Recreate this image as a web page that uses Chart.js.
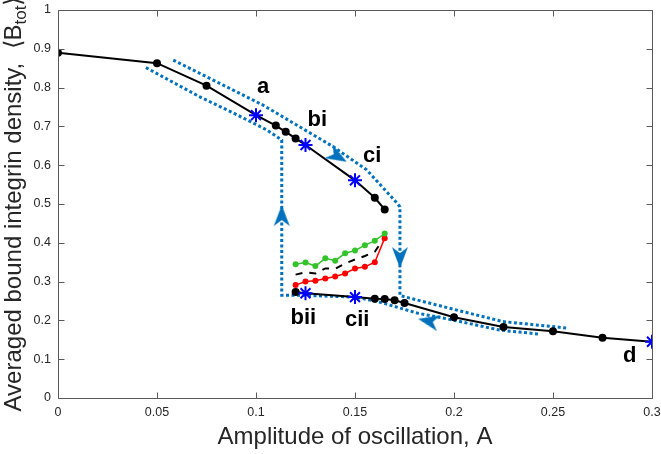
<!DOCTYPE html>
<html>
<head>
<meta charset="utf-8">
<script src="https://cdn.jsdelivr.net/npm/chart.js@4.4.0/dist/chart.umd.min.js"></script>
<style>
  body { margin: 0; background: #fff; }
</style>
</head>
<body>
<canvas id="chart" width="661" height="454"></canvas>
<script>
// Upper (high binding) branch
const upperA = [0, 0.05, 0.075, 0.1, 0.11, 0.115, 0.12, 0.125, 0.15, 0.16, 0.165];
const upperB = [0.89, 0.863, 0.805, 0.729, 0.702, 0.686, 0.669, 0.652, 0.561, 0.516, 0.486];

// Lower (low binding) branch
const lowerA = [0.12, 0.125, 0.15, 0.16, 0.165, 0.17, 0.175, 0.2, 0.225, 0.25, 0.275, 0.3];
const lowerB = [0.273, 0.270, 0.260, 0.256, 0.255, 0.252, 0.245, 0.208, 0.183, 0.172, 0.155, 0.145];

// Sweep curves in the bistable region
const sweepA = [0.12, 0.125, 0.13, 0.135, 0.14, 0.145, 0.15, 0.155, 0.16, 0.165];
const greenB = [0.345, 0.349, 0.340, 0.360, 0.354, 0.373, 0.380, 0.394, 0.405, 0.424];
const redB   = [0.291, 0.300, 0.302, 0.308, 0.313, 0.321, 0.334, 0.338, 0.350, 0.412];
const meanB  = [0.318, 0.324, 0.321, 0.334, 0.333, 0.347, 0.357, 0.366, 0.377, 0.415];

// Marked states
const starA = [0.1, 0.125, 0.15, 0.125, 0.15, 0.3];
const starB = [0.729, 0.652, 0.561, 0.270, 0.260, 0.145];
const starLabels = ['a', 'bi', 'ci', 'bii', 'cii', 'd'];

// Hysteresis guide paths (dotted)
const pathUpA = [0.0582, 0.1035, 0.1389, 0.1559, 0.1711, 0.1727, 0.1727, 0.1995, 0.2247, 0.2576];
const pathUpB = [0.871, 0.755, 0.648, 0.588, 0.503, 0.493, 0.264, 0.229, 0.197, 0.180];
const pathDownA = [0.2424, 0.2232, 0.1995, 0.1813, 0.1626, 0.1505, 0.1222, 0.113, 0.113, 0.1054, 0.0884, 0.0717, 0.0439];
const pathDownB = [0.165, 0.175, 0.201, 0.219, 0.247, 0.260, 0.265, 0.265, 0.665, 0.691, 0.735, 0.776, 0.853];

// Arrow heads on the guide paths
const arrowA = [0.113, 0.1727, 0.141, 0.1873];
const arrowB = [0.469, 0.363, 0.623, 0.198];
const arrowAngle = [0, 180, 120, 282];

// Axis ticks
const xTicks = [0, 0.05, 0.1, 0.15, 0.2, 0.25, 0.3];
const yTicks = [0, 0.1, 0.2, 0.3, 0.4, 0.5, 0.6, 0.7, 0.8, 0.9, 1];

const PATH_BLUE = '#0072BD';
const STAR_BLUE = '#0000FF';
const AXIS_COLOR = '#5a5a5a';
const TEXT_COLOR = '#262626';
const FONT = '"Liberation Sans", Arial, sans-serif';

// label placement relative to the star, in pixels (left edge, baseline)
const labelOffsets = {
  a: [1, -22], bi: [2, -19], ci: [8, -18],
  bii: [-15, 31], cii: [-10, 29], d: [-29, 20]
};

function pts(xs, ys) {
  return xs.map((x, i) => ({ x: x, y: ys[i] }));
}

function isStar(a, b) {
  return starA.some((s, k) => s === a && Math.abs(starB[k] - b) < 0.01);
}

// no automatic padding, keep the plot box where the reference has it
function fixPadding(s) {
  s.paddingTop = 0;
  s.paddingBottom = 0;
  s.paddingLeft = 0;
  s.paddingRight = 0;
}

// arrowhead pointing up, used as a point style
function makeArrowHead() {
  const c = document.createElement('canvas');
  c.width = 18;
  c.height = 22;
  const g = c.getContext('2d');
  g.fillStyle = PATH_BLUE;
  g.beginPath();
  g.moveTo(9, 0);
  g.lineTo(17, 21);
  g.lineTo(9, 15);
  g.lineTo(1, 21);
  g.closePath();
  g.fill();
  return c;
}
const arrowHead = makeArrowHead();

// box, inward ticks, axis titles and state labels
const decorPlugin = {
  id: 'decor',
  afterDraw(chart) {
    const ctx = chart.ctx;
    const area = chart.chartArea;
    const xs = chart.scales.x;
    const ys = chart.scales.y;
    const L = Math.round(area.left) + 0.5;
    const R = Math.round(area.right) + 0.5;
    const T = Math.round(area.top) + 0.5;
    const B = Math.round(area.bottom) + 0.5;
    const tl = 6;

    ctx.save();
    ctx.strokeStyle = AXIS_COLOR;
    ctx.lineWidth = 1;
    ctx.beginPath();
    ctx.rect(L, T, R - L, B - T);
    xTicks.forEach(v => {
      const px = Math.round(xs.getPixelForValue(v)) + 0.5;
      ctx.moveTo(px, B); ctx.lineTo(px, B - tl);
      ctx.moveTo(px, T); ctx.lineTo(px, T + tl);
    });
    yTicks.forEach(v => {
      const py = Math.round(ys.getPixelForValue(v)) + 0.5;
      ctx.moveTo(L, py); ctx.lineTo(L + tl, py);
      ctx.moveTo(R, py); ctx.lineTo(R - tl, py);
    });
    ctx.stroke();

    // x title
    ctx.fillStyle = TEXT_COLOR;
    ctx.font = '24px ' + FONT;
    ctx.textAlign = 'center';
    ctx.textBaseline = 'alphabetic';
    ctx.fillText('Amplitude of oscillation, A', (area.left + area.right) / 2, 444);

    // y title with subscript
    const main = 'Averaged bound integrin density,  \u27E8B';
    const sub = 'tot';
    const tail = '\u27E9';
    ctx.font = '24px ' + FONT;
    const wMain = ctx.measureText(main).width;
    const wTail = ctx.measureText(tail).width;
    ctx.font = '17px ' + FONT;
    const wSub = ctx.measureText(sub).width;
    const total = wMain + wSub + wTail;
    ctx.translate(21, (area.top + area.bottom) / 2);
    ctx.rotate(-Math.PI / 2);
    ctx.textAlign = 'left';
    const x0 = -total / 2;
    ctx.font = '24px ' + FONT;
    ctx.fillText(main, x0, 0);
    ctx.font = '17px ' + FONT;
    ctx.fillText(sub, x0 + wMain, 5);
    ctx.font = '24px ' + FONT;
    ctx.fillText(tail, x0 + wMain + wSub, 0);
    ctx.restore();

    // state labels
    const meta = chart.getDatasetMeta(1);
    ctx.save();
    ctx.fillStyle = '#000';
    ctx.font = 'bold 22px ' + FONT;
    ctx.textAlign = 'left';
    ctx.textBaseline = 'alphabetic';
    starLabels.forEach((lab, i) => {
      const p = meta.data[i];
      const off = labelOffsets[lab];
      ctx.fillText(lab, p.x + off[0], p.y + off[1]);
    });
    ctx.restore();
  }
};

const ctx = document.getElementById('chart').getContext('2d');

new Chart(ctx, {
  type: 'scatter',
  data: {
    datasets: [
      {
        label: 'arrows',
        data: pts(arrowA, arrowB),
        pointStyle: arrowHead,
        rotation: arrowAngle,
        pointRadius: 8,
        showLine: false
      },
      {
        label: 'states',
        data: pts(starA, starB),
        pointStyle: 'star',
        pointRadius: 7,
        borderColor: STAR_BLUE,
        backgroundColor: STAR_BLUE,
        pointBorderWidth: 2,
        showLine: false
      },
      {
        label: 'upper',
        data: pts(upperA, upperB),
        showLine: true,
        borderColor: '#000',
        borderWidth: 2,
        backgroundColor: '#000',
        pointBackgroundColor: '#000',
        pointBorderColor: '#000',
        pointRadius: c => isStar(upperA[c.dataIndex], upperB[c.dataIndex]) ? 0 : 4,
        pointBorderWidth: 0
      },
      {
        label: 'lower',
        data: pts(lowerA, lowerB),
        showLine: true,
        borderColor: '#000',
        borderWidth: 2,
        backgroundColor: '#000',
        pointBackgroundColor: '#000',
        pointBorderColor: '#000',
        pointRadius: c => isStar(lowerA[c.dataIndex], lowerB[c.dataIndex]) ? 0 : 4,
        pointBorderWidth: 0
      },
      {
        label: 'green',
        data: pts(sweepA, greenB),
        showLine: true,
        borderColor: '#33c42a',
        borderWidth: 1.5,
        pointBackgroundColor: '#33c42a',
        pointBorderColor: '#33c42a',
        pointRadius: 3,
        pointBorderWidth: 0
      },
      {
        label: 'red',
        data: pts(sweepA, redB),
        showLine: true,
        borderColor: '#ff0000',
        borderWidth: 1.5,
        pointBackgroundColor: '#ff0000',
        pointBorderColor: '#ff0000',
        pointRadius: 3,
        pointBorderWidth: 0
      },
      {
        label: 'mean',
        data: pts(sweepA, meanB),
        showLine: true,
        borderColor: '#000',
        borderWidth: 2,
        borderDash: [7, 7],
        pointRadius: 0
      },
      {
        label: 'path up',
        data: pts(pathUpA, pathUpB),
        showLine: true,
        borderColor: PATH_BLUE,
        borderWidth: 3,
        borderDash: [3, 2.5],
        pointRadius: 0
      },
      {
        label: 'path down',
        data: pts(pathDownA, pathDownB),
        showLine: true,
        borderColor: PATH_BLUE,
        borderWidth: 3,
        borderDash: [3, 2.5],
        pointRadius: 0
      }
    ]
  },
  options: {
    responsive: false,
    animation: false,
    layout: { padding: { top: 10, right: 9, left: 0, bottom: 0 } },
    plugins: {
      legend: { display: false },
      tooltip: { enabled: false }
    },
    scales: {
      x: {
        type: 'linear',
        min: 0,
        max: 0.3,
        afterFit: s => { s.height = 56; fixPadding(s); },
        afterBuildTicks: s => { s.ticks = xTicks.map(v => ({ value: v })); },
        grid: { display: false, drawTicks: false },
        border: { display: false },
        ticks: {
          padding: 7,
          color: TEXT_COLOR,
          font: { family: FONT, size: 12.5 },
          callback: v => String(Number(v.toFixed(2)))
        }
      },
      y: {
        type: 'linear',
        min: 0,
        max: 1,
        afterFit: s => { s.width = 58; fixPadding(s); },
        afterBuildTicks: s => { s.ticks = yTicks.map(v => ({ value: v })); },
        grid: { display: false, drawTicks: false },
        border: { display: false },
        ticks: {
          padding: 7,
          color: TEXT_COLOR,
          font: { family: FONT, size: 12.5 },
          callback: v => String(Number(v.toFixed(2)))
        }
      }
    }
  },
  plugins: [decorPlugin]
});
</script>
</body>
</html>
